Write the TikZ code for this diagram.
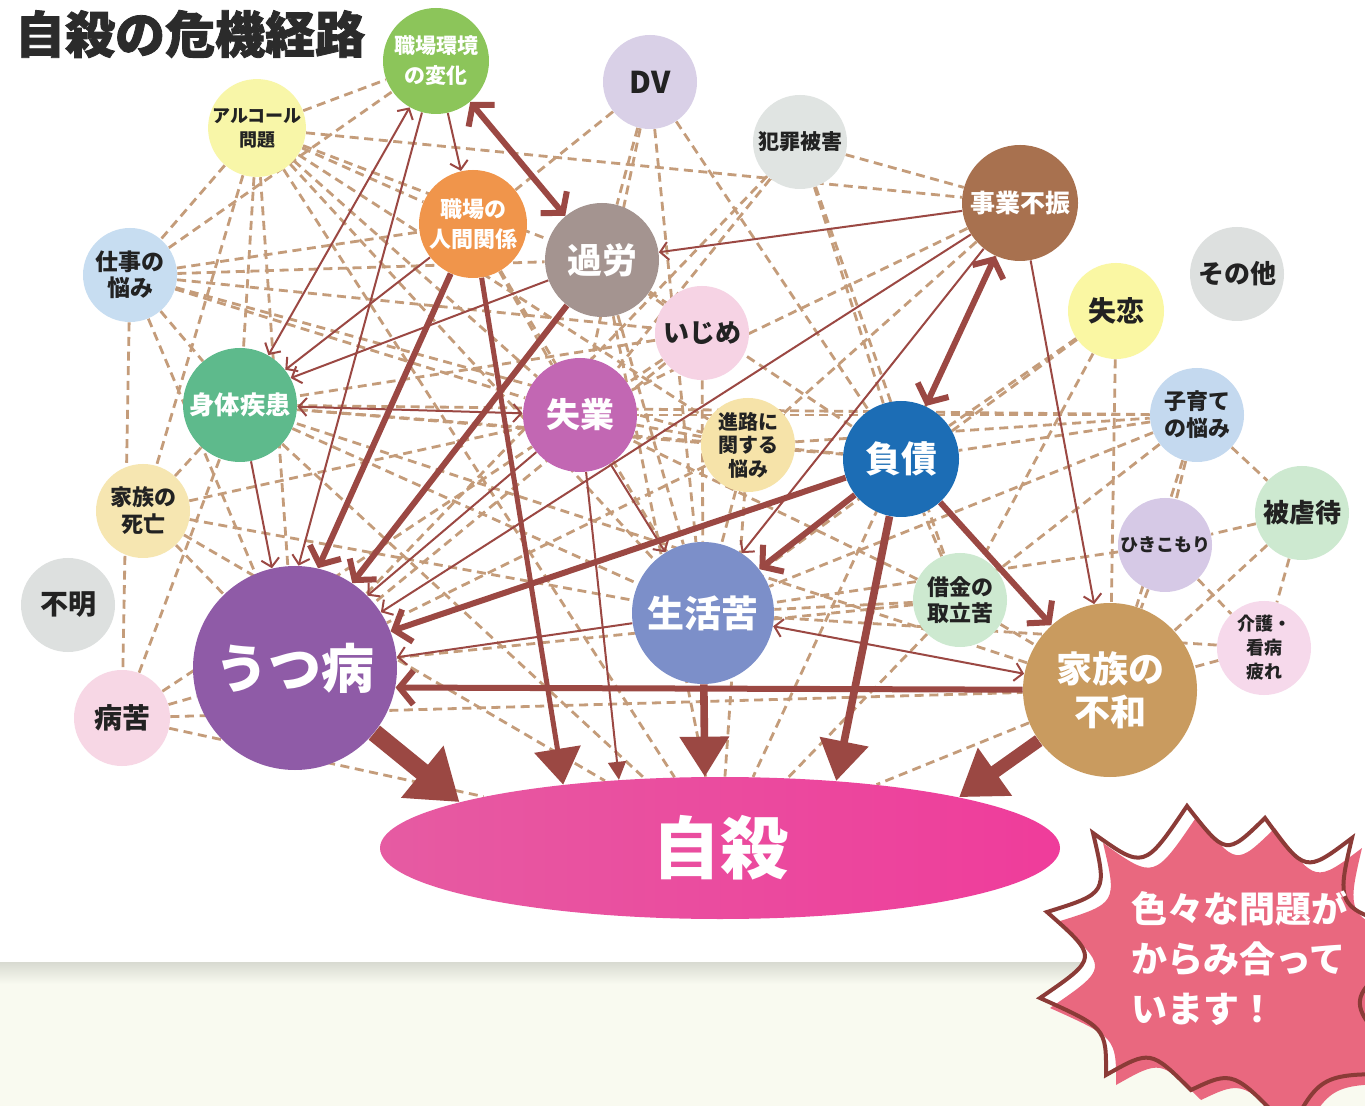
\documentclass[tikz,border=0pt]{standalone}
\usepackage{fontspec}
\setmainfont{Noto Sans CJK JP}
\newfontfamily\titlefont{Noto Sans CJK JP}[BoldFeatures={FakeBold=1.6}]
\usetikzlibrary{arrows.meta,shapes.geometric}
\pgfdeclarelayer{back}\pgfdeclarelayer{bg}\pgfdeclarelayer{mid}
\pgfsetlayers{back,bg,mid,main}
\newcommand\fsz[2]{\fontsize{#1}{#2}\selectfont}
\definecolor{wkC}{HTML}{8CC55A}
\definecolor{alC}{HTML}{F8F6A8}
\definecolor{dvC}{HTML}{D9D0E7}
\definecolor{hzC}{HTML}{E0E4E2}
\definecolor{jfC}{HTML}{A8714F}
\definecolor{otC}{HTML}{DDE0DF}
\definecolor{srC}{HTML}{FAF7A3}
\definecolor{nkC}{HTML}{F0954B}
\definecolor{krC}{HTML}{A49490}
\definecolor{sgC}{HTML}{C7DDF1}
\definecolor{ijC}{HTML}{F6D3E4}
\definecolor{shC}{HTML}{5EBA8C}
\definecolor{syC}{HTML}{C267B3}
\definecolor{snC}{HTML}{F6E3A9}
\definecolor{fsC}{HTML}{1C6DB5}
\definecolor{kdC}{HTML}{C4D9EF}
\definecolor{gyC}{HTML}{CDE9D0}
\definecolor{hkC}{HTML}{D6C9E6}
\definecolor{ksC}{HTML}{F6E6B1}
\definecolor{fmC}{HTML}{DDE0DF}
\definecolor{bkC}{HTML}{F7D7E5}
\definecolor{utC}{HTML}{8F5BA7}
\definecolor{slC}{HTML}{7C8FC9}
\definecolor{skC}{HTML}{CDE9D0}
\definecolor{fwC}{HTML}{C99B5F}
\definecolor{kgC}{HTML}{F6D9EB}
\definecolor{jsL}{HTML}{E65BA2}
\definecolor{jsR}{HTML}{EF3C9B}
\definecolor{arrC}{HTML}{9B4843}
\definecolor{dashC}{HTML}{C49C7A}
\definecolor{txtD}{HTML}{222222}
\definecolor{titleC}{HTML}{2B2B2B}
\definecolor{burstF}{HTML}{E9687F}
\definecolor{burstL}{HTML}{8B3B37}
\definecolor{creamC}{HTML}{F9FAF0}
\definecolor{shadowC}{HTML}{D8DAD1}
\begin{document}
\begin{tikzpicture}[x=0.5pt,y=-0.5pt,
  bub/.style={circle,inner sep=0pt,align=center,text=txtD},
  wbub/.style={bub,text=white},
  dl/.style={draw=dashC,line width=1.4pt,dash pattern=on 4.5pt off 2.8pt},
  ta/.style={draw=arrC,line width=1pt,arrows={-Straight Barb[length=4pt,width=9pt]}},
  tab/.style={draw=arrC,line width=1pt,arrows={Straight Barb[length=4pt,width=9pt]-Straight Barb[length=4pt,width=9pt]}},
  ka/.style={draw=arrC,line width=3pt,arrows={-Straight Barb[length=7pt,width=17pt]}},
  kab/.style={draw=arrC,line width=3pt,arrows={Straight Barb[length=7pt,width=17pt]-Straight Barb[length=7pt,width=17pt]}}
]
\path[use as bounding box] (0,0) rectangle (1365,1106);
\begin{pgfonlayer}{back}
\fill[white] (0,0) rectangle (1365,1106);
\fill[creamC] (0,962) rectangle (1365,1106);
\shade[top color=shadowC,bottom color=creamC] (0,962) rectangle (1365,984);
\end{pgfonlayer}

% title
\node[anchor=west,text=titleC,font=\titlefont\bfseries\fsz{25}{25}] (title) at (8,34) {自殺の危機経路};

% nodes
\node[wbub,fill=wkC,minimum size=53pt,font=\bfseries\fsz{10.5}{15}] (wk) at (436,61) {職場環境\\の変化};
\node[bub,fill=alC,minimum size=47pt,font=\bfseries\fsz{9}{12}] (al) at (257,128) {アルコール\\問題};
\node[bub,fill=dvC,minimum size=47pt,font=\bfseries\fsz{15}{15}] (dv) at (650,82) {DV};
\node[bub,fill=hzC,minimum size=47pt,font=\bfseries\fsz{10.5}{12}] (hz) at (800,142) {犯罪被害};
\node[wbub,fill=jfC,minimum size=58pt,font=\bfseries\fsz{12.5}{14}] (jf) at (1020,203) {事業不振};
\node[bub,fill=otC,minimum size=47pt,font=\bfseries\fsz{13}{14}] (ot) at (1237,274) {その他};
\node[bub,fill=srC,minimum size=48pt,font=\bfseries\fsz{14}{15}] (sr) at (1116,311) {失恋};
\node[wbub,fill=nkC,minimum size=54pt,font=\bfseries\fsz{11}{15}] (nk) at (473,224) {職場の\\人間関係};
\node[wbub,fill=krC,minimum size=57pt,font=\bfseries\fsz{17.5}{18}] (kr) at (602,260) {過労};
\node[bub,fill=sgC,minimum size=47pt,font=\bfseries\fsz{11.5}{13}] (sg) at (130,275) {仕事の\\悩み};
\node[bub,fill=ijC,minimum size=47pt,font=\bfseries\fsz{13}{14}] (ij) at (702,333) {いじめ};
\node[wbub,fill=shC,minimum size=57pt,font=\bfseries\fsz{12.7}{14}] (sh) at (240,405) {身体疾患};
\node[wbub,fill=syC,minimum size=57pt,font=\bfseries\fsz{17}{18}] (sy) at (580,415) {失業};
\node[bub,fill=snC,minimum size=47pt,font=\bfseries\fsz{10}{11.8}] (sn) at (748,445) {進路に\\関する\\悩み};
\node[wbub,fill=fsC,minimum size=58pt,font=\bfseries\fsz{18}{19}] (fs) at (901,459) {負債};
\node[bub,fill=kdC,minimum size=47pt,font=\bfseries\fsz{11}{13.5}] (kd) at (1197,415) {子育て\\の悩み};
\node[bub,fill=gyC,minimum size=47pt,font=\bfseries\fsz{13}{14}] (gy) at (1302,513) {被虐待};
\node[bub,fill=hkC,minimum size=47pt,font=\bfseries\fsz{9}{10}] (hk) at (1165,545) {ひきこもり};
\node[bub,fill=ksC,minimum size=47pt,font=\bfseries\fsz{11}{13.5}] (ks) at (143,511) {家族の\\死亡};
\node[bub,fill=fmC,minimum size=47pt,font=\bfseries\fsz{14}{15}] (fm) at (68,605) {不明};
\node[bub,fill=bkC,minimum size=48pt,font=\bfseries\fsz{14}{15}] (bk) at (122,718) {病苦};
\node[wbub,fill=utC,minimum size=102pt,font=\bfseries\fsz{26.5}{28}] (ut) at (295,668) {うつ病};
\node[wbub,fill=slC,minimum size=71pt,font=\bfseries\fsz{18.5}{20}] (sl) at (703,613) {生活苦};
\node[bub,fill=skC,minimum size=47pt,font=\bfseries\fsz{11}{13}] (sk) at (960,600) {借金の\\取立苦};
\node[wbub,fill=fwC,minimum size=87pt,font=\bfseries\fsz{18}{21.5}] (fw) at (1110,690) {家族の\\不和};
\node[bub,fill=kgC,minimum size=47pt,font=\bfseries\fsz{9}{12}] (kg) at (1264,648) {介護・\\看病\\疲れ};
\node[ellipse,inner sep=0pt,minimum width=340pt,minimum height=71pt,left color=jsL,right color=jsR,text=white,font=\bfseries\fsz{34}{34}] (js) at (720,848) {自殺};

% dashed web
\begin{pgfonlayer}{bg}
\foreach \a/\b in {al/wk,al/jf,al/nk,al/kr,al/sy,al/sl,al/ks,al/ut,al/js,al/sg,al/sh,al/sn,
  sg/wk,sg/nk,sg/kr,sg/sy,sg/sh,sg/ut,sg/bk,sg/sn,sg/ij,
  dv/kr,dv/sy,dv/fs,dv/sl,dv/nk,
  hz/sy,hz/fs,hz/jf,hz/ut,hz/sk,
  ij/sh,ij/ut,ij/sl,ij/kr,ij/sy,
  sn/sh,sn/ut,sn/sl,sn/js,sn/fs,sn/kd,sn/sy,
  sr/fs,sr/fw,sr/sl,sr/sk,
  kd/fs,kd/fw,kd/sl,kd/gy,kd/hk,kd/sy,kd/sk,kd/sh,
  gy/hk,gy/fw,gy/kg,hk/fw,hk/kg,hk/sl,kg/fw,kg/sl,
  ks/sh,ks/ut,ks/sy,ks/sl,ks/js,
  bk/ut,bk/js,bk/sh,bk/fw,bk/sy,
  sk/fs,sk/fw,sk/sl,sk/ut,sk/js,sk/sy,
  jf/js,jf/sn,jf/sy,fw/js,fw/sh,
  sh/sl,sh/js,sh/fs,kr/sl,kr/js,kr/fs,nk/sy,nk/sl}
  \draw[dl] (\a) -- (\b);
\end{pgfonlayer}

% solid arrows
\begin{pgfonlayer}{mid}
\draw[ta] (wk) -- (nk);
\draw[tab] (sh) -- (wk);
\draw[ta] (wk) -- (ut.88);
\draw[ta] (nk) -- (sh);
\draw[ta] (kr) -- (sh.28);
\draw[tab] (sh) -- (sy);
\draw[ta] (sh) -- (ut.103);
\draw[ta] (sy) -- (sl);
\draw[ta] (sy) -- (ut.45);
\draw[ta] (jf) -- (kr);
\draw[ta] (jf) -- (ut.33);
\draw[ta] (jf) -- (sl.57);
\draw[ta] (jf) -- (fw);
\draw[ta] (sl) -- (ut.6);
\draw[tab] (sl) -- (fw);
\draw[kab] (wk) -- (kr);
\draw[ka] (nk) -- (ut.77);
\draw[ka] (kr) -- (ut.56);
\draw[kab] (jf) -- (fs);
\draw[ka] (fs) -- (ut.21);
\draw[ka] (fs) -- (sl);
\draw[ka] (fs) -- (fw);
\draw[ka] (fw) -- (ut.-11);
\draw[draw=arrC,line width=1pt,-{Triangle[length=9pt,width=9pt]}] (sy) -- (js.146);
\draw[draw=arrC,line width=2.5pt,-{Triangle[length=18pt,width=23pt]}] (nk) -- (js.158);
\draw[draw=arrC,line width=3.8pt,-{Triangle[length=20pt,width=24pt]}] (sl) -- (js.102);
\draw[draw=arrC,line width=3.8pt,-{Triangle[length=20pt,width=24pt]}] (fs) -- (js.30);
\draw[draw=arrC,line width=9pt,-{Triangle[length=24pt,width=32pt]}] (ut) -- (js.170);
\draw[draw=arrC,line width=6.5pt,-{Triangle[length=22pt,width=28pt]}] (fw) -- (js.12);
\end{pgfonlayer}

% burst
\begin{scope}
\clip (0,0) rectangle (1365,1106);
\fill[white] (1093,833) .. controls (1144,869.5) .. (1187,806) .. controls (1226,856) .. (1265,818)
 .. controls (1305.2,873.3) .. (1352,838) .. controls (1334.7,911.2) .. (1440,935)
 .. controls (1336.7,998.3) .. (1420,1075) .. controls (1321.7,1072.5) .. (1290,1130)
 .. controls (1233.2,1070) .. (1191,1090) .. controls (1150.5,1049.8) .. (1106,1075)
 .. controls (1106.3,1027.8) .. (1040,998) .. controls (1098.8,957.7) .. (1047,912)
 .. controls (1107.3,893.2) .. (1093,833) -- cycle;
\begin{scope}[shift={(10,10)}]
\fill[burstF] (1093,833) .. controls (1144,869.5) .. (1187,806) .. controls (1226,856) .. (1265,818)
 .. controls (1305.2,873.3) .. (1352,838) .. controls (1334.7,911.2) .. (1440,935)
 .. controls (1336.7,998.3) .. (1420,1075) .. controls (1321.7,1072.5) .. (1290,1130)
 .. controls (1233.2,1070) .. (1191,1090) .. controls (1150.5,1049.8) .. (1106,1075)
 .. controls (1106.3,1027.8) .. (1040,998) .. controls (1098.8,957.7) .. (1047,912)
 .. controls (1107.3,893.2) .. (1093,833) -- cycle;
\end{scope}
\draw[burstL,line width=2pt,line join=miter] (1093,833) .. controls (1144,869.5) .. (1187,806) .. controls (1226,856) .. (1265,818)
 .. controls (1305.2,873.3) .. (1352,838) .. controls (1334.7,911.2) .. (1440,935)
 .. controls (1336.7,998.3) .. (1420,1075) .. controls (1321.7,1072.5) .. (1290,1130)
 .. controls (1233.2,1070) .. (1191,1090) .. controls (1150.5,1049.8) .. (1106,1075)
 .. controls (1106.3,1027.8) .. (1040,998) .. controls (1098.8,957.7) .. (1047,912)
 .. controls (1107.3,893.2) .. (1093,833) -- cycle;
\end{scope}
\node[anchor=west,text=white,align=left,font=\bfseries\fsz{18}{25}] (bt) at (1124,958) {色々な問題が\\からみ合って\\います！};
\end{tikzpicture}
\end{document}
